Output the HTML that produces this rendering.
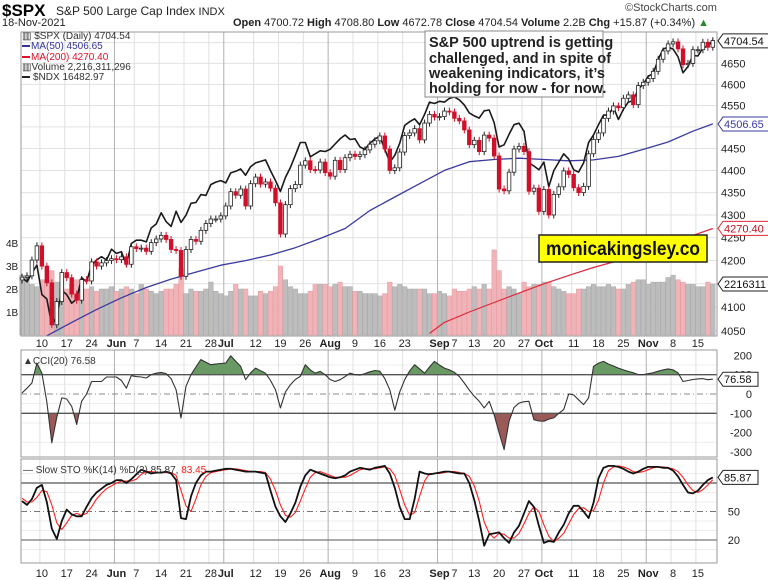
<!DOCTYPE html>
<html><head><meta charset="utf-8"><style>
body{margin:0;background:#fff;}
svg{display:block;font-family:"Liberation Sans",sans-serif;}
</style></head><body>
<svg id="chart" width="768" height="580" viewBox="0 0 768 580" xmlns="http://www.w3.org/2000/svg">
<rect x="0" y="0" width="768" height="580" fill="#fff"/>
<g id="header">
<text x="2" y="16" font-size="17" font-weight="bold">$SPX</text>
<text x="56" y="15" font-size="12" fill="#222">S&amp;P 500 Large Cap Index <tspan font-size="11">INDX</tspan></text>
<text x="2" y="26" font-size="11" fill="#222">18-Nov-2021</text>
<text x="625" y="11" font-size="11" fill="#444">©StockCharts.com</text>
<text x="233" y="26" font-size="11" fill="#222"><tspan font-weight="bold">Open</tspan> 4700.72 <tspan font-weight="bold">High</tspan> 4708.80 <tspan font-weight="bold">Low</tspan> 4672.78 <tspan font-weight="bold">Close</tspan> 4704.54 <tspan font-weight="bold">Volume</tspan> 2.2B <tspan font-weight="bold">Chg</tspan> +15.87 (+0.34%) <tspan fill="#2a8a2a">▲</tspan></text>
</g>
<g id="grid"></g>
<g id="vol"></g>
<g id="lines"></g>
<g id="candles"></g>
<g id="ind"></g>
<g id="frames"></g>
<g id="labels"></g>
<g id="legend">
<text x="22" y="39" font-size="10" fill="#333">▥ $SPX (Daily) 4704.54</text>
<line x1="22" y1="46" x2="30" y2="46" stroke="#33339a" stroke-width="2"/>
<text x="31" y="49" font-size="10" fill="#33339a">MA(50) 4506.65</text>
<line x1="22" y1="57" x2="30" y2="57" stroke="#e0102a" stroke-width="2"/>
<text x="31" y="60" font-size="10" fill="#e0102a">MA(200) 4270.40</text>
<text x="22" y="70" font-size="10" fill="#333">▥Volume 2,216,311,296</text>
<line x1="22" y1="77" x2="30" y2="77" stroke="#222" stroke-width="2"/>
<text x="33" y="80" font-size="10" fill="#333">$NDX 16482.97</text>
</g>
<g>
<rect x="425" y="31" width="178" height="66" fill="#fff" stroke="#888" stroke-width="1"/>
<text font-size="14.5" font-weight="bold" fill="#222">
<tspan x="429" y="47">S&amp;P 500 uptrend is getting</tspan>
<tspan x="429" y="63">challenged, and in spite of</tspan>
<tspan x="429" y="78">weakening indicators, it’s</tspan>
<tspan x="429" y="93">holding for now - for now.</tspan>
</text>
</g>
<g>
<rect x="539" y="235" width="168" height="27" fill="#ffff00" stroke="#222" stroke-width="1.5"/>
<text x="546" y="255" font-size="19" font-weight="bold" textLength="154" lengthAdjust="spacingAndGlyphs" fill="#111">monicakingsley.co</text>
</g>
</svg>
<script>
const closes=[4164,4167,4201,4232,
4188,4152,4063,4112,4174,
4163,4128,4115,4159,4156,
4197,4188,4195,4200,4204,
4202,4208,4192,4230,
4226,4227,4220,4239,4247,
4255,4246,4224,4222,4166,
4224,4246,4242,4266,4281,
4291,4291,4298,4320,4352,
4344,4358,4320,4370,
4385,4369,4374,4360,4327,
4258,4323,4359,4368,4412,
4422,4402,4401,4419,4395,
4387,4423,4402,4429,4437,
4432,4436,4447,4460,4468,
4479,4449,4400,4406,4442,
4480,4486,4496,4470,4509,
4529,4523,4524,4537,4535,
4520,4514,4493,4459,
4469,4443,4481,4474,4433,
4358,4354,4396,4449,4455,
4443,4353,4360,4308,4357,
4300,4346,4363,4399,4391,
4361,4350,4364,4438,4471,
4486,4520,4537,4549,4545,
4567,4575,4552,4597,4605,
4614,4631,4660,4680,4697,
4702,4685,4647,4650,4683,
4683,4701,4689,4705];
const ndx=[13350,13300,13400,13500,
13150,13100,12800,12900,13200,
13150,13050,13100,13350,13300,
13500,13560,13600,13560,13690,
13640,13660,13500,13760,
13800,13800,13780,13950,14000,
14140,14030,13970,14160,14020,
14110,14260,14270,14370,14360,
14500,14530,14550,14520,14650,
14670,14700,14620,14730,
14780,14800,14820,14680,14550,
14410,14590,14720,14880,15050,
15050,14860,14900,14940,14930,
14960,15030,15100,15150,15090,
15100,14990,14960,15040,15100,
15130,14960,14790,14880,15040,
15280,15330,15370,15290,15430,
15600,15580,15610,15600,15650,
15670,15630,15560,15450,
15410,15380,15480,15490,15320,
14990,15020,15160,15290,15310,
15200,14780,14740,14690,14790,
14470,14680,14790,14900,14830,
14690,14660,14780,15050,15150,
15290,15420,15420,15530,15360,
15500,15600,15620,15780,15850,
15960,16000,16200,16350,16380,
16350,16240,16010,16100,16260,
16250,16370,16390,16483];
const volumes=[2.6,2.5,2.2,2.1,2.4,2.4,2.8,2.3,2.0,2.0,
2.2,2.4,2.0,2.0,2.1,1.9,2.0,2.0,2.1,1.9,
2.0,2.1,2.0,1.8,2.2,2.0,1.9,1.8,1.9,2.0,
2.0,2.2,2.9,1.8,2.0,1.9,1.9,2.0,2.3,1.9,
1.8,1.7,1.9,2.2,2.0,2.0,1.7,1.7,1.9,1.8,
1.9,2.1,3.0,2.4,2.1,2.0,1.8,1.8,1.9,2.2,
2.2,2.2,2.1,2.2,2.3,2.1,2.1,1.9,1.9,1.8,
1.8,1.8,1.7,1.8,2.3,2.1,2.2,2.1,2.0,2.0,
2.0,2.0,1.8,1.8,1.9,1.8,1.7,2.0,1.9,1.9,
2.0,2.1,2.0,2.2,2.0,3.7,2.8,2.0,2.1,2.0,
1.8,2.3,2.1,2.2,2.2,2.3,2.3,2.1,2.0,1.9,
1.8,1.8,2.0,2.0,2.1,2.2,2.1,2.1,2.2,2.1,
2.0,2.0,2.2,2.3,2.4,2.4,2.2,2.3,2.3,2.3,
2.5,2.6,2.4,2.3,2.2,2.2,2.1,2.1,2.3,2.216];
const ma50Idx=[0,5,10,15,20,25,30,35,40,45,50,55,60,65,70,75,80,85,90,95,100,105,110,115,120,125,130,135,139];
const ma50=[4010,4040,4068,4095,4120,4142,4160,4175,4190,4200,4212,4228,4248,4270,4310,4340,4370,4400,4420,4425,4428,4425,4422,4424,4432,4448,4465,4490,4507];
const ma200Idx=[82,85,90,95,100,105,110,115,120,125,130,135,139];
const ma200=[4045,4068,4090,4110,4130,4150,4168,4185,4200,4218,4235,4255,4270];
const cci=[5,30,57,160,108,-40,-253,-120,-20,-26,
-64,-158,-38,0,65,65,65,88,88,88,
70,30,95,90,88,83,100,108,112,105,
80,22,-125,40,100,140,178,165,152,155,
158,160,198,170,143,74,110,134,120,108,
70,22,-72,10,48,75,91,152,125,108,
117,100,75,65,74,90,108,100,98,105,
115,122,118,80,22,-84,10,74,120,152,
130,108,140,169,150,134,125,112,90,57,
20,-12,-38,-72,-38,-107,-200,-288,-141,-70,
-47,-40,-38,-133,-140,-141,-130,-124,-100,-81,
0,-5,-30,-55,-20,143,160,169,155,145,
134,125,117,110,100,100,105,110,118,125,
130,125,110,65,70,75,78,80,74,76.58];
const stoK=[61,57,63,75,78,60,32,21,40,52,
47,45,45,55,64,70,74,78,80,83,
83,80,84,89,94,92,90,91,91,92,
90,83,43,42,66,80,88,92,92,93,
94,95,95,94,93,92,92,92,91,90,
72,55,45,39,48,59,76,88,94,92,
90,88,86,85,86,88,92,94,96,95,
94,96,97,98,90,75,55,42,42,63,
92,90,89,90,91,92,92,91,90,90,
80,62,40,14,26,27,28,22,17,28,
35,48,61,55,35,17,19,18,28,36,
48,56,56,50,43,59,85,96,98,98,
97,95,92,90,92,95,97,97,97,96,
96,93,87,78,70,69,72,78,83,85.87];
const stoD=[64,60,60,65,72,71,57,38,31,38,
46,48,46,48,55,63,69,74,77,80,
82,82,82,84,89,92,92,91,91,91,
91,88,72,56,50,63,78,87,91,92,
93,94,95,95,94,93,92,92,92,91,
84,72,57,46,44,49,61,74,86,91,
92,90,88,86,86,86,88,91,94,95,
95,95,96,97,95,88,73,57,46,49,
66,82,90,90,90,91,92,92,91,90,
87,77,61,39,27,22,27,26,22,22,
27,37,48,55,50,36,24,18,22,27,
37,47,53,54,50,51,62,80,93,97,
98,97,95,92,91,92,94,96,97,97,
96,95,92,86,78,72,70,73,78,83.45];
const xLabels=["10","17","24","Jun","7","14","21","28","Jul","12","19","26","Aug","9","16","23","Sep","7","13","20","27","Oct","11","18","25","Nov","8","15"];
const xLabelIdx=[4,9,14,19,23,28,33,38,41,47,52,57,62,67,72,77,84,87,91,96,101,105,111,116,121,126,131,136];
const priceTicks=[4050,4100,4200,4250,4300,4350,4400,4450,4550,4600,4650];
const volTicks=["1B","2B","3B","4B"];
const cciTicks=[200,100,0,-100,-200,-300];
const stoTicks=[50,20];

const NS="http://www.w3.org/2000/svg";
const L=21,R=717;
function mk(tag,attrs,parent){const e=document.createElementNS(NS,tag);for(const k in attrs)e.setAttribute(k,attrs[k]);parent.appendChild(e);return e;}
const X=i=>22+4.97*i;
const PY=p=>331-1937*Math.log(p/4050);
const NY=v=>40+1127*Math.log(16483/v);
const VY=v=>335-23*v;
const CY=v=>394-0.193*v;
const SY=v=>559-0.95*v;
const grid=document.getElementById('grid'),vol=document.getElementById('vol'),lines=document.getElementById('lines'),cg=document.getElementById('candles'),ind=document.getElementById('ind'),frames=document.getElementById('frames'),lab=document.getElementById('labels');
const panels=[[32,336],[350,457],[459,563]];
priceTicks.concat([4150,4500,4700]).forEach(p=>{const g=mk('line',{x1:L,x2:R,y1:PY(p),y2:PY(p),stroke:'#e2e2e2','stroke-width':1},grid);

});
[-250,-150,-50,50,150].forEach(v=>mk('line',{x1:L,x2:R,y1:CY(v),y2:CY(v),stroke:'#ececec'},grid));
[10,30,40,60,70,90].forEach(v=>mk('line',{x1:L,x2:R,y1:SY(v),y2:SY(v),stroke:'#ececec'},grid));
xLabelIdx.forEach((idx,k)=>{const lbl=xLabels[k];const month=isNaN(+lbl);const x=X(idx)-2;
panels.forEach(p=>mk('line',{x1:x,x2:x,y1:p[0],y2:p[1],stroke:month?'#b0b0b0':'#e0e0e0','stroke-width':1},grid));
[343,573].forEach(y=>{const t=mk('text',{x:X(idx),y:y+4,'font-size':11,'text-anchor':'middle','font-weight':month?'bold':'normal',fill:'#222'},lab);t.textContent=lbl;

});});
volumes.forEach((v,i)=>{const down=i>0&&closes[i]<closes[i-1];const b=mk('rect',{x:X(i)-2.3,y:VY(v),width:4.6,height:335-VY(v),fill:down?'#f0b4b8':'#bdbdbd',stroke:down?'#e89aa0':'#a8a8a8','stroke-width':0.5},vol);

});
function poly(idxs,vals,fy,col,w,parent,name){const pts=vals.map((v,k)=>X(idxs?idxs[k]:k).toFixed(1)+','+fy(v).toFixed(1)).join(' ');const e=mk('polyline',{points:pts,fill:'none',stroke:col,'stroke-width':w,'stroke-linejoin':'round'},parent);

return e;}
const cp=mk('clipPath',{id:'mainclip'},lines);mk('rect',{x:L,y:32,width:R-L,height:304},cp);
const ma50L=poly(ma50Idx,ma50,PY,'#3a3aa0',1.3,lines,'ma50-line');ma50L.setAttribute('clip-path','url(#mainclip)');
const ma200L=poly(ma200Idx,ma200,PY,'#e0283a',1.2,lines,'ma200-line');ma200L.setAttribute('clip-path','url(#mainclip)');
poly(null,ndx,NY,'#1a1a1a',1.6,lines,'ndx-line');
closes.forEach((c,i)=>{const o=i>0?closes[i-1]:c-6;const up=c>=o;const hi=Math.max(o,c)*1.0018,lo=Math.min(o,c)*0.9982;const x=X(i);
mk('line',{x1:x,x2:x,y1:PY(hi),y2:PY(lo),stroke:up?'#222':'#d0102a','stroke-width':1},cg);
const top=PY(Math.max(o,c)),h=Math.max(1,PY(Math.min(o,c))-top);
const r=mk('rect',{x:x-1.8,y:top,width:3.6,height:h,fill:up?'#fff':'#d0102a',stroke:up?'#222':'#d0102a','stroke-width':0.8},cg);

});
function fillArea(th,above,col){let d='';let seg=[];const flush=()=>{if(seg.length>1){d+='M'+X(seg[0][0])+','+CY(th)+seg.map(s=>'L'+X(s[0])+','+CY(s[1])).join('')+'L'+X(seg[seg.length-1][0])+','+CY(th)+'Z';}seg=[];};
cci.forEach((v,i)=>{const inside=above?v>th:v<th;if(inside){if(!seg.length&&i>0){const p=cci[i-1];seg.push([i-1+(th-p)/(v-p),th]);}seg.push([i,v]);}else if(seg.length){const p=cci[i-1];seg.push([i-1+(th-p)/(v-p),th]);flush();}});flush();
const e=mk('path',{d:d,fill:col,stroke:'none'},ind);

}
fillArea(100,true,'#6a9a64');fillArea(-100,false,'#9a5a58');
[[100,'#555',1.3,''],[-100,'#555',1.3,''],[0,'#888',1,'6,3,1,3']].forEach(a=>mk('line',{x1:L,x2:R,y1:CY(a[0]),y2:CY(a[0]),stroke:a[1],'stroke-width':a[2],'stroke-dasharray':a[3]},ind));
poly(null,cci,CY,'#333',1.1,ind,'cci-line');
[[80,'#555',1.3,''],[20,'#777',1.3,''],[50,'#777',1,'6,3,1,3']].forEach(a=>mk('line',{x1:L,x2:R,y1:SY(a[0]),y2:SY(a[0]),stroke:a[1],'stroke-width':a[2],'stroke-dasharray':a[3]},ind));
poly(null,stoD,SY,'#ff2020',1.1,ind,'sto-d-line');
poly(null,stoK,SY,'#111',1.8,ind,'sto-k-line');
panels.forEach(p=>mk('rect',{x:L,y:p[0],width:R-L,height:p[1]-p[0],fill:'none',stroke:'#999','stroke-width':1},frames));
function tx(x,y,s,size,anchor,col,name,extra){const t=mk('text',Object.assign({x:x,y:y,'font-size':size,'text-anchor':anchor||'start',fill:col||'#222'},extra||{}),lab);t.textContent=s;

return t;}
priceTicks.forEach(p=>tx(721,PY(p)+4,String(p),11,'start','#222','price-tick'));
volTicks.forEach((s,k)=>tx(6,VY(k+1)+4,s,10,'start','#222','volume-tick'));
cciTicks.forEach(v=>tx(752,CY(v)+4,String(v),11,'end','#222','cci-tick'));
stoTicks.forEach(v=>tx(740,SY(v)+4,String(v),11,'end','#222','sto-tick'));
function tag(y,s,col,name){mk('path',{d:`M${R+1},${y} l5,-7 h${s.length*6.2+4} v14 h-${s.length*6.2+4} z`,fill:'#fff',stroke:col,'stroke-width':1},lab);tx(R+7,y+4,s,11,'start',col==='#3a3aa0'?'#3a3aa0':(col==='#e0283a'?'#c01020':'#111'),name);}
tag(PY(4704.54),'4704.54','#222','last-price-tag');
tag(PY(4506.65),'4506.65','#3a3aa0','ma50-tag');
tag(PY(4270.40),'4270.40','#e0283a','ma200-tag');
tag(VY(2.216),'2216311','#222','volume-tag');
tag(CY(76.58),'76.58','#222','cci-tag');
tag(SY(85.87),'85.87','#222','sto-tag');
tx(23,364,'▲CCI(20) 76.58',10,'start','#333','cci-legend');
const st=tx(23,473,'',10,'start','#333','sto-legend');st.innerHTML='<tspan>— Slow STO %K(14) %D(3) 85.87, </tspan><tspan fill="#ff2020">83.45</tspan>';
</script>
</body></html>
